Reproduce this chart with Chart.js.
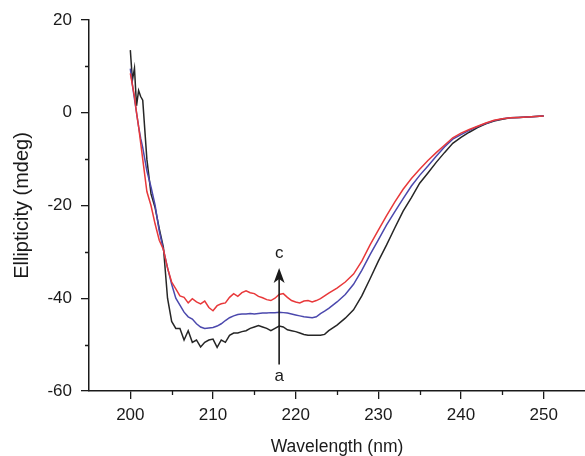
<!DOCTYPE html>
<html>
<head>
<meta charset="utf-8">
<script src="https://cdn.jsdelivr.net/npm/chart.js@4"></script>
<style>
  html, body { margin: 0; padding: 0; background: #fff; }
  #cdCtx { display: block; }
</style>
</head>
<body>
<canvas id="cdCtx" width="585" height="456"></canvas>
<script>
// wavelength (nm)
const wavelength = [
    200, 200.25, 200.5, 200.75, 201, 201.25, 201.5, 202, 202.5, 203, 203.5, 204, 204.5,
    205, 205.5, 206, 206.5, 207, 207.5, 208, 208.5, 209, 209.5,
    210, 210.5, 211, 211.5, 212, 212.5, 213, 213.5, 214, 214.5,
    215, 215.5, 216, 216.5, 217, 217.5, 218, 218.5, 219, 219.5,
    220, 220.5, 221, 221.5, 222, 222.5, 223, 223.5, 224,
    225, 226, 227, 228, 229, 230, 231, 232, 233, 234,
    235, 236, 237, 238, 239, 240, 241, 242, 243, 244,
    245, 246, 247, 248, 249, 250
];

// curve a (black)
const curveA = [
    13.5, 7, 9.6, 1.5, 4.8, 3.5, 2.7, -10, -17.5, -20.5, -25, -29, -40,
    -45, -46.5, -46.5, -49, -47, -49.5, -49, -50.5, -49.5, -49,
    -48.8, -50.6, -49, -49.5, -48, -47.5, -47.5, -47.2, -47, -46.5,
    -46.2, -45.9, -46.2, -46.5, -47, -46.5, -46, -46.2, -46.8, -47,
    -47.2, -47.5, -47.8, -48, -48, -48, -48, -47.8, -47,
    -45.8, -44.3, -42.5, -39.5, -35.8, -32, -28.5, -24.8, -21.2, -18.3,
    -15.2, -13, -10.7, -8.6, -6.6, -5.3, -4.2, -3.2, -2.4, -1.8,
    -1.4, -1.1, -1, -0.9, -0.8, -0.7
];

// curve b (blue)
const curveB = [
    9.5, 6, 3, 0, -3, -5.5, -7.5, -12.5, -16, -20, -25.5, -29.5, -33.4,
    -37, -40, -41.5, -43, -44, -44.5, -45.5, -46.2, -46.5, -46.4,
    -46.3, -46, -45.5, -44.8, -44.2, -43.8, -43.5, -43.4, -43.4, -43.3,
    -43.4, -43.3, -43.2, -43.2, -43.1, -43.1, -43, -43.1, -43.2, -43.4,
    -43.6, -43.8, -44, -44.1, -44.2, -44, -43.3, -42.8, -42.2,
    -40.8, -39.2, -37, -34, -30.6, -27.4, -24.2, -21.3, -18.5, -15.8,
    -13.5, -11.5, -9.4, -7.4, -5.7, -4.7, -3.8, -3, -2.3, -1.7,
    -1.3, -1.1, -1, -0.9, -0.8, -0.7
];

// curve c (red)
const curveC = [
    8.5, 6, 3.5, 0, -3, -6.5, -10, -17, -20, -24, -27.5, -29.5, -33.5,
    -36.5, -38, -39.5, -39.8, -41, -40.1, -40.8, -41.2, -40.6, -42,
    -42.7, -41.6, -41.2, -41, -39.8, -39, -39.6, -38.8, -38.4, -38.8,
    -39, -39.6, -39.9, -40.3, -40.5, -40, -39.2, -39, -39.8, -40.5,
    -40.8, -41, -40.6, -40.5, -40.8, -40.5, -40.1, -39.5, -38.9,
    -37.8, -36.5, -34.8, -32, -28.5, -25.3, -22.2, -19.2, -16.5, -14.2,
    -12.2, -10.3, -8.6, -7, -5.4, -4.4, -3.6, -2.9, -2.2, -1.6,
    -1.3, -1.1, -1, -0.9, -0.8, -0.7
];

const xTicks = [200, 210, 220, 230, 240, 250];
const xMinorTicks = [205, 215, 225, 235, 245];
const yTicks = [-60, -40, -20, 0, 20];
const yMinorTicks = [-50, -30, -10, 10];

const fontFamily = '"Liberation Sans", Arial, Helvetica, sans-serif';
const ink = '#1a1a1a';

function toPoints(values) {
    return wavelength.map((w, i) => ({ x: w, y: values[i] }));
}

// short ticks between the labelled ones, plus the a -> c arrow
const extrasPlugin = {
    id: 'extras',
    afterDraw(chart) {
        const ctx = chart.ctx;
        const x = chart.scales.x;
        const y = chart.scales.y;
        ctx.save();
        ctx.strokeStyle = ink;
        ctx.lineWidth = 1.3;
        ctx.beginPath();
        xMinorTicks.forEach(v => {
            const px = Math.round(x.getPixelForValue(v)) + 0.5;
            ctx.moveTo(px, y.bottom);
            ctx.lineTo(px, y.bottom + 4);
        });
        yMinorTicks.forEach(v => {
            const py = Math.round(y.getPixelForValue(v)) + 0.5;
            ctx.moveTo(x.left, py);
            ctx.lineTo(x.left - 4, py);
        });
        ctx.stroke();

        // arrow at 218 nm
        const ax = x.getPixelForValue(218);
        const yBottom = y.getPixelForValue(-54.3);
        const yTip = y.getPixelForValue(-33.5);
        ctx.lineWidth = 1.6;
        ctx.beginPath();
        ctx.moveTo(ax, yBottom);
        ctx.lineTo(ax, yTip + 8);
        ctx.stroke();
        ctx.fillStyle = ink;
        ctx.beginPath();
        ctx.moveTo(ax, yTip);
        ctx.lineTo(ax + 5.5, yTip + 15);
        ctx.lineTo(ax, yTip + 11);
        ctx.lineTo(ax - 5.5, yTip + 15);
        ctx.closePath();
        ctx.fill();

        ctx.font = '17px ' + fontFamily;
        ctx.textAlign = 'center';
        ctx.textBaseline = 'middle';
        ctx.fillText('c', ax, y.getPixelForValue(-30.3));
        ctx.fillText('a', ax, y.getPixelForValue(-56.9));
        ctx.restore();
    }
};

function buildChart() {
    const ctx = document.getElementById('cdCtx');
    return new Chart(ctx, {
        type: 'line',
        data: {
            datasets: [
                { label: 'c', data: toPoints(curveC), borderColor: '#e8383a' },
                { label: 'b', data: toPoints(curveB), borderColor: '#4b48ad' },
                { label: 'a', data: toPoints(curveA), borderColor: '#262626' }
            ]
        },
        options: {
            responsive: false,
            animation: false,
            events: [],
            layout: { padding: { top: 20, right: 0, bottom: 0, left: 0 } },
            elements: {
                point: { radius: 0 },
                line: { borderWidth: 1.5, tension: 0 }
            },
            plugins: {
                legend: { display: false },
                tooltip: { enabled: false }
            },
            scales: {
                x: {
                    type: 'linear',
                    position: 'bottom',
                    min: 195,
                    max: 255,
                    afterBuildTicks: scale => { scale.ticks = xTicks.map(v => ({ value: v })); },
                    afterFit: scale => { scale.height = 65; },
                    border: { color: ink, width: 1.5 },
                    grid: { drawOnChartArea: false, drawTicks: true, tickLength: 8, color: ink, lineWidth: 1.3 },
                    ticks: { color: ink, padding: 6, maxRotation: 0, font: { family: fontFamily, size: 17 } },
                    title: {
                        display: true,
                        text: 'Wavelength (nm)',
                        color: ink,
                        padding: { top: 0, bottom: -2 },
                        font: { family: fontFamily, size: 17.5 }
                    }
                },
                y: {
                    type: 'linear',
                    min: -60,
                    max: 20,
                    afterBuildTicks: scale => { scale.ticks = yTicks.map(v => ({ value: v })); },
                    afterFit: scale => { scale.width = 89; },
                    border: { color: ink, width: 1.5 },
                    grid: { drawOnChartArea: false, drawTicks: true, tickLength: 8, color: ink, lineWidth: 1.3 },
                    ticks: { color: ink, padding: 9, font: { family: fontFamily, size: 17 } },
                    title: {
                        display: true,
                        text: 'Ellipticity (mdeg)',
                        color: ink,
                        padding: { top: 10, bottom: 0 },
                        font: { family: fontFamily, size: 20 }
                    }
                }
            }
        },
        plugins: [extrasPlugin]
    });
}

buildChart();
</script>
</body>
</html>
